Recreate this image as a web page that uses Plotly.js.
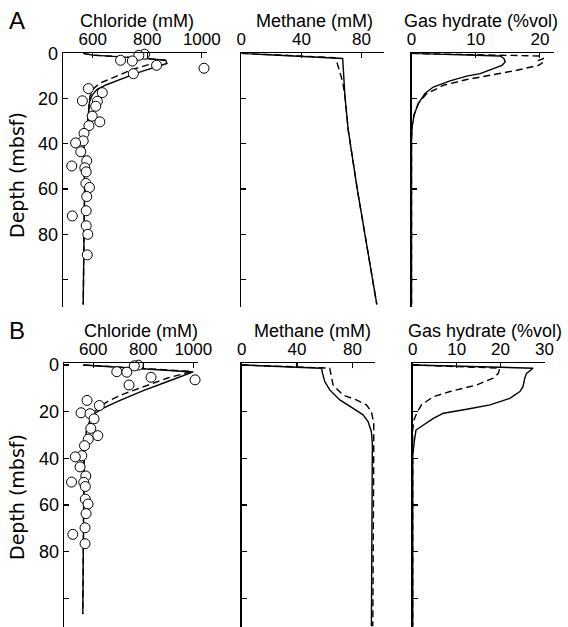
<!DOCTYPE html>
<html><head><meta charset="utf-8">
<script src="https://cdn.plot.ly/plotly-3.0.1.min.js"></script>
<style>html,body{margin:0;padding:0;background:#fff}#chart{width:568px;height:627px}</style>
</head><body><div id="chart"></div>
<script>
// ---------- Panel A ----------
const clObsDepthA = [0.4,0.9,3.1,3.4,5.3,6.6,9.0,15.6,17.4,21.0,21.2,23.4,27.8,30.3,32.0,35.4,38.7,39.6,43.5,47.5,49.8,50.6,52.4,57.5,59.3,63.3,69.6,71.9,76.2,80.0,89.1];
const clObsA      = [790,769,702,745,834,1008,749,584,635,562,617,611,598,626,586,568,565,537,556,578,523,571,576,575,588,578,576,525,576,582,580];
const clSolidDepthA = [0,0.8,2.0,3.0,4.5,6.0,8.0,10.0,12.0,14.0,16.0,18.5,21.5,25,28,32.5,35.5,40,50,60,80,100,111];
const clSolidA      = [565,600,760,868,872,830,780,735,690,648,615,598,588,585,582,580,574,568,568,570,568,566,565];
const clDashDepthA  = [0,0.8,2.0,3.0,4.5,7.2,10.3,13.4,16,19,22,25,28,32.5,35.5,40,50,60,80,100,111];
const clDashA       = [565,600,760,865,819,745,684,623,600,590,587,585,582,580,574,568,568,570,568,566,565];
const ch4SolidDepthA = [0,2.3,19,34,60,111];
const ch4SolidA      = [0,67.5,69,71.2,77.2,90.2];
const ch4DashDepthA  = [0,1.9,4.5,8.2,12.6,19,34,60,111];
const ch4DashA       = [0,62.3,63.9,65.7,67.5,69,71.2,77.2,90.2];
const ghSolidDepthA = [0,1.2,2.3,3.8,5.3,7.2,9,10.1,12.2,14.9,17.8,22.2,27.3,32.5,38,111];
const ghSolidA      = [0,13.8,14.4,14.6,14.1,12.3,10.7,8.6,6.0,3.4,2.1,1.06,0.4,0.1,0,0];
const ghDashDepthA  = [0,1.2,2.3,3.2,4.2,5.3,7.5,9.3,11.6,14.1,16.3,18,22,27,32,38,111];
const ghDashA       = [0,19.8,20.6,19.7,20.4,19.8,16.4,12.8,8.6,5.0,3.4,2.3,1.1,0.4,0.1,0,0];

// ---------- Panel B ----------
const clObsDepthB = [0.1,0.4,2.9,3.1,5.3,6.4,8.6,15.2,17.4,20.5,20.9,23.1,27.2,30.3,31.8,34.6,38.9,39.4,43.7,47.6,50.2,50.3,52.1,57.5,59.6,63.7,69.8,72.6,76.6];
const clObsB      = [780,764,694,734,831,1007,743,575,624,551,587,603,590,618,580,565,554,528,547,570,513,562,568,568,579,571,567,518,567];
const clSolidDepthB = [0,1.0,2.0,3.0,7.0,11.0,15.5,18.5,20.5,23,27,32,40,50,60,80,106.7];
const clSolidB      = [560,700,850,1000,900,800,700,640,610,590,575,567,563,562,563,560,558];
const clDashDepthB  = [0,1.0,2.0,2.8,5.5,9.5,12.5,15.5,17.5,20,23,27,32,40,50,60,80,106.7];
const clDashB       = [560,700,850,995,900,800,720,660,630,605,590,575,567,563,562,563,560,558];
const ch4SolidDepthB = [0,1.4,3.6,7.1,10.7,15,18.6,21.4,24.3,28.6,33.6,112];
const ch4SolidB      = [0,57.7,58.4,60,63.6,70.9,80.5,87.7,91.3,93.7,94.4,93.7];
const ch4DashDepthB  = [0,1.4,5,8.6,12.9,15,17.1,20,25,36.7,112];
const ch4DashB       = [0,63.6,64.8,66,73.2,82.8,90.1,93.7,95.4,95.4,94.7];
const ghSolidDepthB = [0,1.4,3.6,5.7,9.3,11.4,14.3,17.1,19,20.7,22.9,26.7,27.9,32.9,39,112];
const ghSolidB      = [0,27.4,25.9,25.5,25.1,24.4,22.1,17.6,12.3,7.0,4.7,1.66,0.75,0.36,0,0];
const ghDashDepthB  = [0,1.4,3.6,5.7,8.6,11.4,13.6,17.1,20.7,23.6,28,112];
const ghDashB       = [0,19.8,19.5,18.3,14.5,8.5,4.7,2.0,0.9,0.3,0,0];

// ---------- ticks / labels ----------
const clTicks = [600,800,1000];
const ch4Ticks = [0,40,80];
const ghTicksA = [0,10,20];
const ghTicksB = [0,10,20,30];
const depthTicks = [0,20,40,60,80,100];
const depthTickText = ['0','20','40','60','80',''];
const panelLabels = ['A','B'];
const xTitles = ['Chloride (mM)','Methane (mM)','Gas hydrate (%vol)'];
const yTitle = 'Depth (mbsf)';

const W = 568, H = 627;
const fx = v => v / W;
const fy = v => 1 - v / H;
const FONT = 'Liberation Sans, Arial, Helvetica, sans-serif';

function line(x, y, xa, ya, dash) {
  return {x: x, y: y, xaxis: xa, yaxis: ya, mode: 'lines', type: 'scatter',
          line: {color: '#000', width: 1.4, dash: dash ? '7px,4px' : 'solid'},
          hoverinfo: 'skip', showlegend: false};
}
function pts(x, y, xa, ya) {
  return {x: x, y: y, xaxis: xa, yaxis: ya, mode: 'markers', type: 'scatter', cliponaxis: false,
          marker: {symbol: 'circle', size: 10, color: '#fff', line: {color: '#000', width: 1}},
          showlegend: false};
}

const data = [
  line(clDashA, clDashDepthA, 'x', 'y', true),
  line(clSolidA, clSolidDepthA, 'x', 'y', false),
  pts(clObsA, clObsDepthA, 'x', 'y'),
  line(ch4DashA, ch4DashDepthA, 'x2', 'y2', true),
  line(ch4SolidA, ch4SolidDepthA, 'x2', 'y2', false),
  line(ghDashA, ghDashDepthA, 'x3', 'y3', true),
  line(ghSolidA, ghSolidDepthA, 'x3', 'y3', false),
  line(clDashB, clDashDepthB, 'x4', 'y4', true),
  line(clSolidB, clSolidDepthB, 'x4', 'y4', false),
  pts(clObsB, clObsDepthB, 'x4', 'y4'),
  line(ch4DashB, ch4DashDepthB, 'x5', 'y5', true),
  line(ch4SolidB, ch4SolidDepthB, 'x5', 'y5', false),
  line(ghDashB, ghDashDepthB, 'x6', 'y6', true),
  line(ghSolidB, ghSolidDepthB, 'x6', 'y6', false)
];

function xax(dom, range, ticks, anchor) {
  return {domain: [fx(dom[0]), fx(dom[1])], range: range, side: 'top', anchor: anchor,
          tickmode: 'array', tickvals: ticks, ticks: 'inside', ticklen: 5, tickwidth: 1.2,
          tickcolor: '#000', showline: true, linecolor: '#000', linewidth: 1.6,
          showgrid: false, zeroline: false, fixedrange: true,
          tickfont: {family: FONT, size: 17, color: '#000'}};
}
function yax(dom, range, anchor, labels) {
  return {domain: [fy(dom[1]), fy(dom[0])], range: range, anchor: anchor,
          tickmode: 'array', tickvals: depthTicks, ticktext: depthTickText,
          showticklabels: labels, ticks: 'inside', ticklen: 5, tickwidth: 1.2,
          tickcolor: '#000', showline: true, linecolor: '#000', linewidth: 1.6,
          showgrid: false, zeroline: false, fixedrange: true,
          tickfont: {family: FONT, size: 18, color: '#000'}};
}

const yA = [53.3, 306.7], yB = [363.3, 627];
const layout = {
  width: W, height: H, margin: {l: 0, r: 0, t: 0, b: 0},
  paper_bgcolor: '#fff', plot_bgcolor: 'rgba(0,0,0,0)', showlegend: false,
  xaxis:  xax([63.3, 207], [492, 1019], clTicks, 'y'),
  xaxis2: xax([241.3, 384], [0, 95], ch4Ticks, 'y2'),
  xaxis3: xax([411.5, 554], [0, 22.2], ghTicksA, 'y3'),
  xaxis4: xax([64.3, 198.3], [484, 1020], clTicks, 'y4'),
  xaxis5: xax([241.7, 375], [0, 96.3], ch4Ticks, 'y5'),
  xaxis6: xax([412.7, 544.5], [0, 30], ghTicksB, 'y6'),
  yaxis:  yax(yA, [112, 0], 'x', true),
  yaxis2: yax(yA, [112, 0], 'x2', false),
  yaxis3: yax(yA, [112, 0], 'x3', false),
  yaxis4: yax(yB, [112.3, -0.7], 'x4', true),
  yaxis5: yax(yB, [112.3, -0.7], 'x5', false),
  yaxis6: yax(yB, [112.3, -0.7], 'x6', false),
  annotations: []
};

const titleXs = [[137, 314, 481], [141, 312, 485]];
const titleYs = [21.5, 331];
const panelY = [20, 330];
const depthY = [175, 497];
for (let p = 0; p < 2; p++) {
  layout.annotations.push({text: panelLabels[p], xref: 'paper', yref: 'paper',
    x: fx(17), y: fy(panelY[p]), xanchor: 'center', yanchor: 'middle', showarrow: false,
    font: {family: FONT, size: 24, color: '#000'}});
  for (let i = 0; i < 3; i++) {
    layout.annotations.push({text: xTitles[i], xref: 'paper', yref: 'paper',
      x: fx(titleXs[p][i]), y: fy(titleYs[p]), xanchor: 'center', yanchor: 'middle', showarrow: false,
      font: {family: FONT, size: 18, color: '#000'}});
  }
  layout.annotations.push({text: yTitle, xref: 'paper', yref: 'paper', textangle: -90,
    x: fx(17), y: fy(depthY[p]), xanchor: 'center', yanchor: 'middle', showarrow: false,
    font: {family: 'DejaVu Sans, sans-serif', size: 19, color: '#000'}});
}

Plotly.newPlot('chart', data, layout, {staticPlot: true, displayModeBar: false});
</script></body></html>
